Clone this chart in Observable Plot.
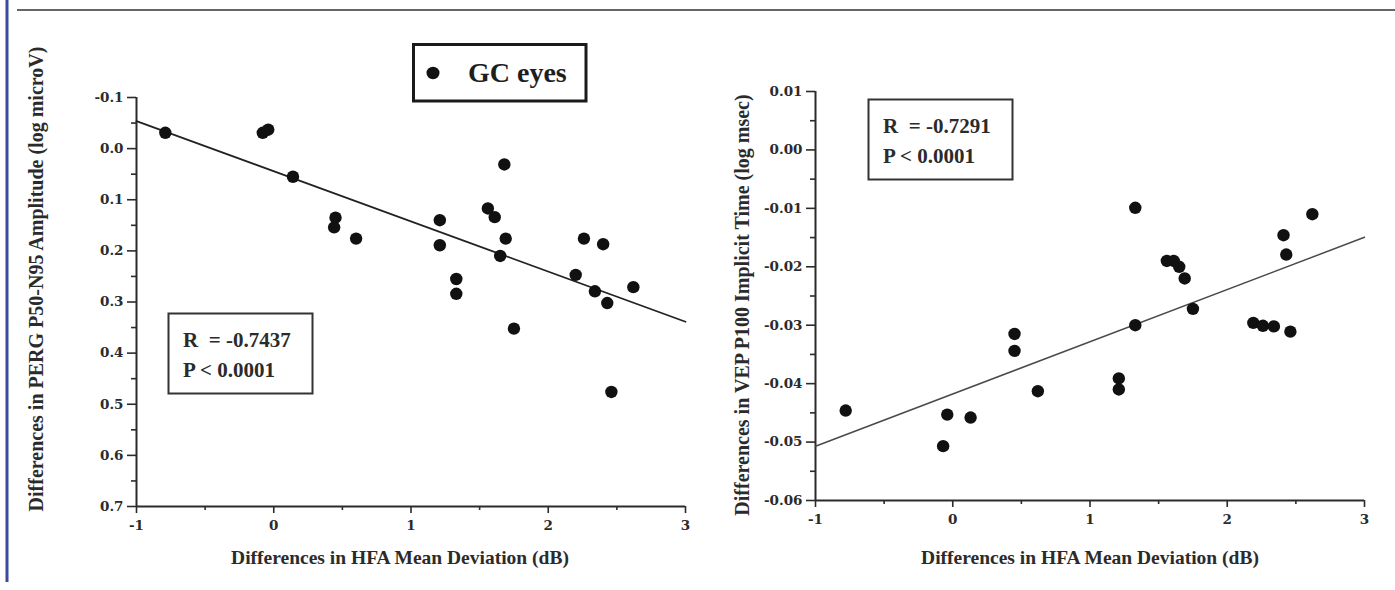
<!DOCTYPE html>
<html>
<head>
<meta charset="utf-8">
<script src="https://cdn.jsdelivr.net/npm/d3@7"></script>
<script src="https://cdn.jsdelivr.net/npm/@observablehq/plot@0.6"></script>
<style>
  body { margin: 0; background: #fff; }
  #fig { position: relative; width: 1395px; height: 590px; overflow: hidden; background: #fff; }
  #fig > svg { position: absolute; top: 0; }
</style>
</head>
<body>
<div id="fig"></div>
<script>
// GC eyes: change in HFA mean deviation (dB) vs change in PERG P50-N95 amplitude (log microV)
const mdPERG = [-0.79, -0.08, -0.04, 0.14, 0.45, 0.44, 0.60, 1.21, 1.21, 1.33, 1.33, 1.56,
                1.61, 1.68, 1.69, 1.65, 1.75, 2.20, 2.26, 2.40, 2.34, 2.43, 2.62, 2.46];
const pergAmp = [-0.031, -0.031, -0.037, 0.055, 0.135, 0.154, 0.176, 0.140, 0.189, 0.255, 0.284, 0.117,
                 0.134, 0.031, 0.176, 0.210, 0.352, 0.247, 0.176, 0.187, 0.279, 0.302, 0.271, 0.476];

// GC eyes: change in HFA mean deviation (dB) vs change in VEP P100 implicit time (log msec)
const mdVEP = [1.33, 2.62, 2.41, 2.43, 1.56, 1.61, 1.65, 1.69, 1.75, 1.33, 2.19, 2.26,
               2.34, 2.46, 0.45, 0.45, 1.21, 1.21, 0.62, -0.78, -0.04, 0.13, -0.07];
const vepTime = [-0.0099, -0.0110, -0.0146, -0.0179, -0.0190, -0.0190, -0.0200, -0.0220, -0.0272, -0.0300, -0.0296, -0.0301,
                 -0.0302, -0.0311, -0.0315, -0.0344, -0.0391, -0.0410, -0.0413, -0.0446, -0.0453, -0.0458, -0.0507];

// Axis ticks and labels
const xTicks = [-1, 0, 1, 2, 3];
const xMinor = [-0.5, 0.5, 1.5, 2.5];
const pergTicks = [-0.1, 0, 0.1, 0.2, 0.3, 0.4, 0.5, 0.6, 0.7];
const pergMinor = [-0.05, 0.05, 0.15, 0.25, 0.35, 0.45, 0.55, 0.65];
const vepTicks = [0.01, 0, -0.01, -0.02, -0.03, -0.04, -0.05, -0.06];
const vepMinor = [0.005, -0.005, -0.015, -0.025, -0.035, -0.045, -0.055];

const xTitle = "Differences in HFA Mean Deviation (dB)";
const pergTitle = "Differences in PERG P50-N95 Amplitude (log microV)";
const vepTitle = "Differences in VEP P100 Implicit Time (log msec)";
const pergStats = ["R  = -0.7437", "P < 0.0001"];
const vepStats = ["R  = -0.7291", "P < 0.0001"];
const legendLabel = "GC eyes";

const SERIF = "'Liberation Serif', 'Times New Roman', serif";
const TICKFONT = "'DejaVu Serif', serif";
const INK = "#2b2b2b";

// least-squares line evaluated at the ends of the x axis
function fitLine(xs, ys, x0, x1) {
  const mx = d3.mean(xs), my = d3.mean(ys);
  const sxy = d3.sum(xs, (x, i) => (x - mx) * (ys[i] - my));
  const sxx = d3.sum(xs, x => (x - mx) ** 2);
  const b = sxy / sxx, a = my - b * mx;
  return [x0, x1].map(x => ({x, y: a + b * x}));
}

function panel(o) {
  const pts = o.xs.map((x, i) => ({x, y: o.ys[i]}));
  const tickText = {fontFamily: TICKFONT, fontWeight: "bold", fontSize: 13.5, color: INK};
  return Plot.plot({
    width: 700,
    height: 590,
    ...o.margins,
    style: {overflow: "visible", background: "transparent"},
    x: {domain: [-1, 3]},
    y: {domain: o.yDomain, reverse: o.reverse},
    marks: [
      Plot.axisX({ticks: xTicks, tickSize: 7, tickPadding: 7, strokeWidth: 1.6, label: null,
                  tickFormat: d => String(d), ...tickText}),
      Plot.axisX({ticks: xMinor, tickSize: 4, strokeWidth: 1.6, text: null, label: null, color: INK}),
      Plot.axisY({ticks: o.yTicks, tickSize: 9, tickPadding: 4, strokeWidth: 1.6, label: null,
                  tickFormat: o.yFmt, ...tickText}),
      Plot.axisY({ticks: o.yMinor, tickSize: 5, strokeWidth: 1.6, text: null, label: null, color: INK}),
      Plot.ruleX([-1], {stroke: INK, strokeWidth: 2}),
      Plot.ruleY([o.yBottom], {stroke: INK, strokeWidth: 2}),
      Plot.line(fitLine(o.xs, o.ys, -1, 3), {x: "x", y: "y", stroke: o.lineColor, strokeWidth: o.lineWidth}),
      Plot.dot(pts, {x: "x", y: "y", r: 6.2, fill: "#111", stroke: "none"}),
      Plot.text([o.yTitle], {frameAnchor: "left", textAnchor: "middle", rotate: -90,
                             dx: o.yTitleDx, dy: o.yTitleDy,
                             fontFamily: SERIF, fontWeight: "bold", fontSize: 20, fill: INK,
                             letterSpacing: o.yTitleSpacing}),
      Plot.text([xTitle], {frameAnchor: "bottom", textAnchor: "middle", dy: o.xTitleDy, dx: o.xTitleDx,
                           fontFamily: SERIF, fontWeight: "bold", fontSize: 19.5, fill: INK})
    ]
  });
}

const fig = document.getElementById("fig");

const left = panel({
  xs: mdPERG, ys: pergAmp,
  yDomain: [-0.1, 0.7], reverse: true, yBottom: 0.7,
  yTicks: pergTicks, yMinor: pergMinor, yFmt: d => d.toFixed(1),
  yTitle: pergTitle, yTitleDx: -100, yTitleDy: -23, yTitleSpacing: 1.1,
  xTitleDx: -11, xTitleDy: 57,
  lineColor: "#222", lineWidth: 1.8,
  margins: {marginLeft: 136, marginRight: 15, marginTop: 97, marginBottom: 84}
});
left.style.left = "0px";
fig.appendChild(left);

const right = panel({
  xs: mdVEP, ys: vepTime,
  yDomain: [-0.06, 0.01], reverse: false, yBottom: -0.06,
  yTicks: vepTicks, yMinor: vepMinor, yFmt: d => d.toFixed(2),
  yTitle: vepTitle, yTitleDx: -73, yTitleDy: 9, yTitleSpacing: 1.5,
  xTitleDx: 0, xTitleDy: 63,
  lineColor: "#4a4a4a", lineWidth: 1.5,
  margins: {marginLeft: 120, marginRight: 31, marginTop: 91, marginBottom: 90}
});
right.style.left = "695px";
fig.appendChild(right);

// page rules, legend and correlation boxes
const ov = d3.select(fig).append("svg")
  .attr("width", 1395).attr("height", 590)
  .style("left", "0px").style("pointer-events", "none");

ov.append("line").attr("x1", 17).attr("x2", 1395).attr("y1", 10).attr("y2", 10)
  .attr("stroke", "#333").attr("stroke-width", 1.5);
ov.append("line").attr("x1", 7).attr("x2", 7).attr("y1", 0).attr("y2", 582)
  .attr("stroke", "#3a4b98").attr("stroke-width", 3);

const lg = ov.append("g");
lg.append("rect").attr("x", 413.5).attr("y", 44.5).attr("width", 172.5).attr("height", 56.5)
  .attr("fill", "#fff").attr("stroke", "#1a1a1a").attr("stroke-width", 3);
lg.append("ellipse").attr("cx", 433).attr("cy", 73).attr("rx", 6.5).attr("ry", 6.2).attr("fill", "#111");
lg.append("text").attr("x", 468).attr("y", 82).text(legendLabel)
  .attr("font-family", SERIF).attr("font-weight", "bold").attr("font-size", 28).attr("fill", "#1e1e1e");

function statBox(x, y, lines) {
  const g = ov.append("g");
  g.append("rect").attr("x", x + 0.5).attr("y", y + 0.5).attr("width", 144).attr("height", 80)
    .attr("fill", "none").attr("stroke", "#333").attr("stroke-width", 2);
  lines.forEach((t, i) => {
    g.append("text").attr("x", x + 15).attr("y", y + 34 + i * 30).text(t)
      .attr("font-family", SERIF).attr("font-weight", "bold").attr("font-size", 21)
      .attr("fill", INK).style("white-space", "pre");
  });
}
statBox(168, 313, pergStats);
statBox(868, 99, vepStats);
</script>
</body>
</html>
